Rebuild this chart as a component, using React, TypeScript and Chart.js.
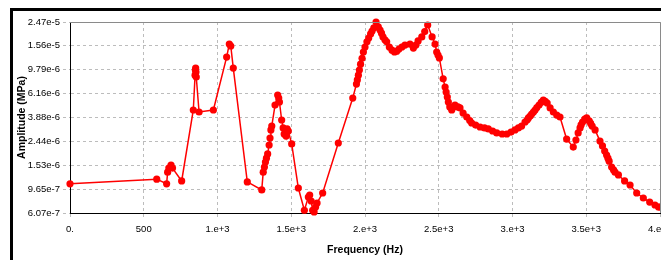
import React, { useEffect, useRef } from "react";
import { Chart, registerables } from "chart.js";

Chart.register(...registerables);

const freqs = [
  0, 588, 655, 662, 670, 685, 695, 757,
  836, 848, 850, 852, 854, 856, 875, 972,
  1062, 1080, 1090, 1107, 1202, 1300,
  1310, 1318, 1325, 1332, 1340, 1350, 1356, 1362, 1368,
  1390, 1408, 1415, 1420, 1435, 1445, 1452, 1458, 1465, 1472, 1480,
  1503, 1548, 1589, 1616, 1625, 1635, 1645, 1655, 1665, 1675, 1713,
  1819, 1917, 1942, 1948, 1955, 1962, 1970, 1980, 1989, 2000, 2013, 2025, 2038, 2048, 2060, 2075,
  2090, 2102, 2112, 2122, 2135, 2147, 2165, 2183, 2200, 2215, 2230, 2250, 2271, 2305, 2328,
  2345, 2360, 2385, 2405, 2425, 2455, 2475, 2486, 2495, 2504, 2530, 2543, 2550, 2558, 2565,
  2575, 2588, 2600, 2610, 2630, 2644, 2665, 2690, 2710, 2723, 2750, 2780, 2810,
  2836, 2865, 2893, 2930, 2961, 2990, 3017, 3040, 3062, 3085, 3100, 3108, 3120, 3130,
  3142, 3153, 3165, 3180, 3195, 3209, 3222, 3235, 3255, 3277, 3300, 3322, 3367, 3412, 3430, 3445,
  3458, 3465, 3475, 3490, 3503, 3520, 3530, 3540, 3560, 3593, 3610, 3625, 3638, 3647, 3655,
  3672, 3685, 3695, 3718, 3760, 3797, 3842, 3887, 3930, 3966, 3990, 4000,
];

const amps = [
  1.07e-6, 1.17e-6, 1.07e-6, 1.34e-6, 1.45e-6, 1.54e-6, 1.45e-6, 1.13e-6,
  4.48e-6, 8.8e-6, 9.73e-6, 1.01e-5, 9.36e-6, 8.5e-6, 4.31e-6, 4.48e-6,
  1.25e-5, 1.61e-5, 1.55e-5, 1.01e-5, 1.11e-6, 9.5e-7,
  1.34e-6, 1.48e-6, 1.63e-6, 1.76e-6, 1.91e-6, 2.27e-6, 2.6e-6, 3.04e-6, 3.28e-6,
  4.93e-6, 5.99e-6, 5.65e-6, 5.23e-6, 3.69e-6, 3.16e-6, 2.81e-6, 3.04e-6, 2.7e-6, 3.1e-6, 2.98e-6,
  2.32e-6, 9.86e-7, 6.4e-7, 8.28e-7, 8.61e-7, 7.66e-7, 6.4e-7, 6.19e-7, 6.82e-7, 7.37e-7, 8.95e-7,
  2.36e-6, 5.65e-6, 7.4e-6, 8.02e-6, 8.8e-6, 9.73e-6, 1.09e-5, 1.22e-5, 1.38e-5, 1.52e-5, 1.68e-5, 1.81e-5, 1.96e-5, 2.07e-5, 2.2e-5, 2.47e-5,
  2.25e-5, 2.11e-5, 1.99e-5, 1.85e-5, 1.75e-5, 1.68e-5, 1.52e-5, 1.43e-5, 1.38e-5, 1.4e-5, 1.46e-5, 1.52e-5, 1.58e-5, 1.61e-5, 1.49e-5,
  1.58e-5, 1.71e-5, 1.85e-5, 2.05e-5, 2.33e-5, 1.85e-5, 1.61e-5, 1.38e-5, 1.3e-5, 1.23e-5, 8.2e-6, 7.0e-6, 6.35e-6, 5.76e-6, 5.23e-6,
  4.75e-6, 4.48e-6, 4.75e-6, 4.93e-6, 4.75e-6, 4.66e-6, 4.22e-6, 3.91e-6, 3.65e-6, 3.48e-6, 3.34e-6, 3.22e-6, 3.16e-6,
  3.1e-6, 2.98e-6, 2.87e-6, 2.81e-6, 2.81e-6, 2.92e-6, 3.04e-6, 3.16e-6, 3.28e-6, 3.55e-6, 3.7e-6, 3.84e-6, 3.98e-6, 4.14e-6,
  4.3e-6, 4.48e-6, 4.7e-6, 4.93e-6, 5.2e-6, 5.44e-6, 5.3e-6, 5.13e-6, 4.66e-6, 4.31e-6, 4.06e-6, 3.91e-6, 2.55e-6, 2.18e-6, 2.5e-6, 2.87e-6,
  3.16e-6, 3.35e-6, 3.55e-6, 3.76e-6, 3.84e-6, 3.62e-6, 3.45e-6, 3.28e-6, 3.04e-6, 2.45e-6, 2.23e-6, 2.02e-6, 1.87e-6, 1.76e-6, 1.66e-6,
  1.48e-6, 1.4e-6, 1.34e-6, 1.27e-6, 1.13e-6, 1.045e-6, 8.95e-7, 8.12e-7, 7.5e-7, 7.09e-7, 6.82e-7, 6.82e-7,
];

const xTickValues = [0, 500, 1000, 1500, 2000, 2500, 3000, 3500, 4000];
const xTickLabels = ["0.", "500", "1.e+3", "1.5e+3", "2.e+3", "2.5e+3", "3.e+3", "3.5e+3", "4.e+3"];
const yTickValues = [6.07e-7, 9.65e-7, 1.53e-6, 2.44e-6, 3.88e-6, 6.16e-6, 9.79e-6, 1.56e-5, 2.47e-5];
const yTickLabels = ["6.07e-7", "9.65e-7", "1.53e-6", "2.44e-6", "3.88e-6", "6.16e-6", "9.79e-6", "1.56e-5", "2.47e-5"];

const xTitle = "Frequency (Hz)";
const yTitle = "Amplitude (MPa)";

const tickFont = { family: "Liberation Sans", size: 9.5 };
const titleFont = { family: "Liberation Sans", size: 10.5, weight: "bold" as const };
const gridColor = "#bcbcbc";

const frameBorders = {
  id: "frameBorders",
  afterDatasetsDraw(chart: any) {
    const { ctx, chartArea } = chart;
    ctx.save();
    ctx.strokeStyle = "#8a8a8a";
    ctx.lineWidth = 1;
    ctx.beginPath();
    ctx.moveTo(chartArea.left, chartArea.top + 0.5);
    ctx.lineTo(chartArea.right + 0.5, chartArea.top + 0.5);
    ctx.lineTo(chartArea.right + 0.5, chartArea.bottom);
    ctx.stroke();
    ctx.restore();
  },
};

export default function App() {
  const ref = useRef<HTMLCanvasElement | null>(null);

  useEffect(() => {
    if (!ref.current) return;
    const data = freqs.map((f, i) => ({ x: f, y: amps[i] }));
    const chart = new Chart(ref.current, {
      type: "line",
      data: {
        datasets: [
          {
            data,
            borderColor: "#ff0000",
            backgroundColor: "#ff0000",
            pointBackgroundColor: "#ff0000",
            pointBorderColor: "#ff0000",
            borderWidth: 1.5,
            pointRadius: 3.6,
            pointBorderWidth: 0,
            tension: 0,
            clip: false as any,
          },
        ],
      },
      options: {
        animation: false,
        responsive: false,
        devicePixelRatio: 1,
        layout: { padding: { left: 12, right: 60, top: 22, bottom: 0 } },
        plugins: { legend: { display: false }, tooltip: { enabled: false } },
        scales: {
          x: {
            type: "linear",
            min: 0,
            max: 4000,
            afterBuildTicks: (s: any) => {
              s.ticks = xTickValues.map((v) => ({ value: v }));
            },
            afterFit: (s: any) => {
              s.height = 47;
            },
            ticks: {
              autoSkip: false,
              maxRotation: 0,
              padding: 4,
              color: "#000",
              font: tickFont,
              callback: (_v: any, i: number) => xTickLabels[i],
            },
            grid: {
              color: gridColor,
              tickColor: gridColor,
              tickLength: 7,
              tickBorderDash: [3, 3],
            },
            border: { color: "#000", width: 1, dash: [3, 3] },
            title: { display: true, text: xTitle, color: "#000", font: titleFont, padding: { top: 4, bottom: 4 } },
          },
          y: {
            type: "logarithmic",
            min: 6.07e-7,
            max: 2.47e-5,
            afterBuildTicks: (s: any) => {
              s.ticks = yTickValues.map((v) => ({ value: v }));
            },
            afterFit: (s: any) => {
              s.width = 58;
            },
            ticks: {
              autoSkip: false,
              padding: 3,
              color: "#000",
              font: tickFont,
              callback: (_v: any, i: number) => yTickLabels[i],
            },
            grid: {
              color: gridColor,
              tickColor: gridColor,
              tickLength: 7,
              tickBorderDash: [3, 3],
            },
            border: { color: "#000", width: 1, dash: [3, 3] },
            title: { display: true, text: yTitle, color: "#000", font: titleFont, padding: { top: 4, bottom: 4 } },
          },
        },
      },
      plugins: [frameBorders],
    });
    return () => chart.destroy();
  }, []);

  return (
    <div
      style={{
        position: "fixed",
        left: 0,
        top: 0,
        width: 661,
        height: 260,
        overflow: "hidden",
        background: "#fff",
      }}
    >
      <div
        style={{
          position: "absolute",
          left: 10,
          top: 8,
          width: 800,
          height: 400,
          borderTop: "3px solid #000",
          borderLeft: "3px solid #000",
          boxSizing: "border-box",
        }}
      />
      <canvas
        ref={ref}
        width={720}
        height={260}
        style={{ position: "absolute", left: 0, top: 0, width: 720, height: 260 }}
      />
    </div>
  );
}
